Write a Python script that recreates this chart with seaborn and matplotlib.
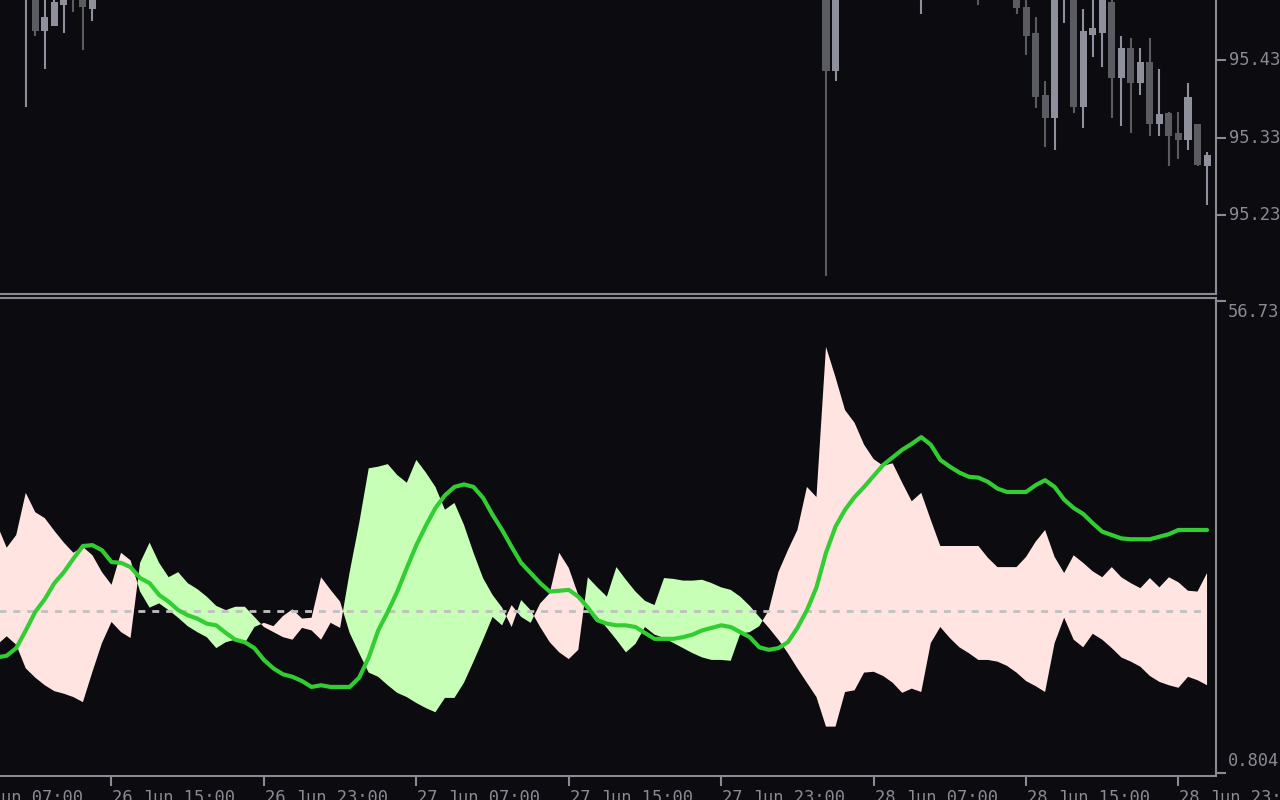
import numpy as np
import matplotlib
matplotlib.use("Agg")
import matplotlib.pyplot as plt
import seaborn as sns

# M30 bars, time in hours counted from 26 Jun 00:00
bar_hours = np.arange(9.0, 73.0, 0.5)

plus_di = [16.0, 17.0, 16.0, 13.2, 12.1, 11.2, 10.5, 10.2,
           9.8, 9.2, 12.8, 16.2, 18.7, 17.5, 16.8, 25.7,
           28.1, 25.7, 24.0, 24.6, 23.3, 22.6, 21.7, 20.6,
           20.1, 20.5, 20.5, 19.3, 18.1, 17.5, 16.9, 16.6,
           18.0, 17.7, 16.6, 18.6, 18.0, 24.6, 30.4, 36.9,
           37.1, 37.4, 36.1, 35.2, 37.9, 36.4, 34.7, 32.0,
           32.8, 30.2, 26.9, 23.9, 21.9, 20.4, 18.1, 21.3,
           20.1, 18.1, 16.3, 15.1, 14.3, 15.4, 24.0, 22.8,
           21.7, 25.2, 23.7, 22.3, 21.2, 20.7, 23.9, 23.8,
           23.6, 23.6, 23.7, 23.3, 22.8, 22.5, 21.7, 20.6,
           19.3, 18.0, 16.6, 15.0, 13.2, 11.5, 9.8, 6.3,
           6.3, 10.4, 10.6, 12.7, 12.8, 12.3, 11.5, 10.3,
           10.8, 10.4, 16.2, 18.1, 16.8, 15.7, 15.0, 14.2,
           14.2, 14.0, 13.5, 12.7, 11.7, 11.1, 10.4, 16.2,
           19.2, 16.6, 15.7, 17.3, 16.6, 15.6, 14.5, 14.0,
           13.4, 12.3, 11.6, 11.2, 10.9, 12.2, 11.8, 11.2]

minus_di = [30.2, 27.5, 29.0, 34.0, 31.7, 31.0, 29.5, 28.1,
            26.9, 27.6, 26.6, 24.6, 23.1, 26.9, 26.0, 22.3,
            20.4, 20.9, 20.1, 19.2, 18.2, 17.5, 16.9, 15.6,
            16.3, 16.6, 16.2, 18.1, 18.6, 18.2, 19.4, 20.2,
            19.1, 19.2, 24.0, 22.5, 21.1, 17.4, 15.0, 12.7,
            12.2, 11.2, 10.3, 9.8, 9.1, 8.5, 8.0, 9.7,
            9.7, 11.5, 14.0, 16.6, 19.3, 18.3, 20.7, 19.3,
            18.6, 20.9, 22.1, 26.9, 25.1, 21.9, 20.5, 19.3,
            18.0, 16.6, 15.1, 16.1, 18.1, 17.2, 16.8, 16.2,
            15.6, 15.0, 14.5, 14.2, 14.2, 14.1, 17.3, 17.5,
            18.2, 20.1, 24.6, 27.2, 29.6, 34.7, 33.5, 51.3,
            47.7, 43.8, 42.3, 39.7, 38.0, 37.2, 37.5, 35.2,
            33.0, 34.0, 30.8, 27.7, 27.7, 27.7, 27.7, 27.7,
            26.3, 25.2, 25.2, 25.2, 26.4, 28.2, 29.6, 26.4,
            24.5, 26.6, 25.7, 24.7, 24.0, 25.2, 24.0, 23.3,
            22.7, 23.9, 22.8, 24.0, 23.4, 22.4, 22.3, 24.5]

adx = [14.5, 14.7, 15.6, 17.7, 19.9, 21.4, 23.3, 24.6,
       26.2, 27.7, 27.8, 27.2, 25.8, 25.7, 25.2, 23.9,
       23.3, 21.9, 21.1, 20.1, 19.5, 19.1, 18.5, 18.3,
       17.4, 16.6, 16.3, 15.6, 14.2, 13.2, 12.5, 12.2,
       11.7, 11.0, 11.2, 11.0, 11.0, 11.0, 12.1, 14.5,
       17.7, 19.9, 22.3, 25.1, 27.8, 30.1, 32.2, 33.7,
       34.7, 35.0, 34.7, 33.4, 31.4, 29.6, 27.6, 25.7,
       24.5, 23.3, 22.3, 22.4, 22.5, 21.7, 20.4, 18.9,
       18.5, 18.3, 18.3, 18.1, 17.4, 16.7, 16.7, 16.7,
       16.9, 17.2, 17.7, 18.0, 18.3, 18.1, 17.5, 16.9,
       15.7, 15.4, 15.6, 16.3, 18.0, 20.1, 22.8, 26.9,
       30.0, 32.0, 33.5, 34.7, 36.0, 37.3, 38.2, 39.1,
       39.8, 40.6, 39.7, 37.9, 37.1, 36.4, 35.9, 35.8,
       35.3, 34.5, 34.1, 34.1, 34.1, 34.9, 35.5, 34.7,
       33.2, 32.2, 31.5, 30.4, 29.4, 29.0, 28.6, 28.5,
       28.5, 28.5, 28.8, 29.1, 29.6, 29.6, 29.6, 29.6]

adx_level = 20.0

# candles that reach into the visible price window
candle_hours = [10.5, 11.0, 11.5, 12.0, 12.5, 13.0, 13.5, 14.0,
                52.5, 53.0, 57.5, 60.5, 62.5, 63.0, 63.5, 64.0,
                64.5, 65.0, 65.5, 66.0, 66.5, 67.0, 67.5, 68.0,
                68.5, 69.0, 69.5, 70.0, 70.5, 71.0, 71.5, 72.0, 72.5]
c_open = [95.530, 95.530, 95.467, 95.474, 95.501, 95.540, 95.530, 95.496,
          95.560, 95.416, 95.515, 95.525, 95.520, 95.498, 95.465, 95.385,
          95.355, 95.515, 95.515, 95.369, 95.462, 95.465, 95.505, 95.407,
          95.446, 95.400, 95.427, 95.347, 95.362, 95.336, 95.327, 95.347, 95.293]
c_high = [95.580, 95.550, 95.520, 95.515, 95.530, 95.550, 95.540, 95.530,
          95.570, 95.560, 95.540, 95.530, 95.530, 95.510, 95.486, 95.403,
          95.520, 95.535, 95.520, 95.496, 95.510, 95.515, 95.510, 95.461,
          95.458, 95.446, 95.458, 95.418, 95.363, 95.363, 95.400, 95.347, 95.311]
c_low = [95.369, 95.461, 95.418, 95.474, 95.465, 95.492, 95.443, 95.480,
         95.151, 95.403, 95.489, 95.501, 95.489, 95.437, 95.368, 95.318,
         95.314, 95.478, 95.362, 95.342, 95.434, 95.421, 95.355, 95.345,
         95.336, 95.385, 95.332, 95.332, 95.293, 95.302, 95.314, 95.293, 95.243]
c_close = [95.560, 95.467, 95.486, 95.505, 95.520, 95.520, 95.498, 95.520,
           95.416, 95.550, 95.530, 95.520, 95.497, 95.461, 95.382, 95.355,
           95.512, 95.525, 95.369, 95.467, 95.471, 95.510, 95.407, 95.446,
           95.400, 95.427, 95.347, 95.360, 95.332, 95.327, 95.382, 95.295, 95.307]

price_ticks = [95.43, 95.33, 95.23]
adx_ticks = [56.73, 0.804]
time_ticks = [7, 15, 23, 31, 39, 47, 55, 63, 71]
time_labels = ["26 Jun 07:00", "26 Jun 15:00", "26 Jun 23:00", "27 Jun 07:00",
               "27 Jun 15:00", "27 Jun 23:00", "28 Jun 07:00", "28 Jun 15:00",
               "28 Jun 23:00"]

bg = "#0b0b10"
grey = "#8a8a94"
light = "#8e909c"
dark = "#5b5b62"
pink = "#ffe4e1"
pale_green = "#c8ffb6"
line_green = "#32cd32"

sns.set_theme(style="dark", rc={"axes.facecolor": bg, "figure.facecolor": bg,
                                "axes.edgecolor": grey, "axes.linewidth": 1.5})
plt.rcParams["font.family"] = ["DejaVu Sans Mono", "DejaVu Sans"]

fig = plt.figure(figsize=(12.8, 8), dpi=100)
ax_top = fig.add_axes([0, 0.6325, 0.95, 0.3675])
ax_bot = fig.add_axes([0, 0.03, 0.95, 0.5969])

xlim = (9.148, 72.97)
font = dict(color=grey, fontsize=12.3, family="DejaVu Sans Mono")

# ---- price panel
o = np.array(c_open)
c = np.array(c_close)
colors = [light if cc >= oo else dark for oo, cc in zip(o, c)]
ax_top.vlines(candle_hours, c_low, c_high, colors=colors, linewidth=1.5)
ax_top.bar(candle_hours, np.maximum(np.abs(c - o), 0.0008), bottom=np.minimum(o, c),
           width=0.37, color=colors, linewidth=0)
ax_top.set_xlim(*xlim)
ax_top.set_ylim(95.1281, 95.5074)
ax_top.set_xticks([])
ax_top.set_yticks(price_ticks)
ax_top.tick_params(axis="y", left=False, right=True, labelleft=False, labelright=False,
                   direction="out", length=7.2, width=1.5, color=grey)
for v in price_ticks:
    ax_top.annotate(f"{v:.2f}", xy=(1, v), xycoords=("axes fraction", "data"),
                    xytext=(13, 0), textcoords="offset pixels", ha="left",
                    va="center", annotation_clip=False, **font)
for side in ["left", "top"]:
    ax_top.spines[side].set_visible(False)

# ---- ADX panel
pd_arr = np.array(plus_di)
md_arr = np.array(minus_di)
ax_bot.fill_between(bar_hours, pd_arr, md_arr, where=md_arr >= pd_arr,
                    interpolate=True, color=pink, linewidth=0)
ax_bot.fill_between(bar_hours, pd_arr, md_arr, where=pd_arr > md_arr,
                    interpolate=True, color=pale_green, linewidth=0)
ax_bot.hlines(adx_level, bar_hours[0], bar_hours[-1], colors="#c0c0c0",
              linewidth=2, linestyles=(0, (2.5, 2.5)))
sns.lineplot(x=bar_hours, y=adx, ax=ax_bot, color=line_green, linewidth=3)
ax_bot.set_xlim(*xlim)
ax_bot.set_ylim(0.4485, 57.026)
ax_bot.set_yticks(adx_ticks)
ax_bot.tick_params(axis="y", left=False, right=True, labelleft=False, labelright=False,
                   direction="out", length=7.2, width=1.5, color=grey)
ax_bot.set_xticks([t for t in time_ticks if t > xlim[0]])
ax_bot.tick_params(axis="x", bottom=True, labelbottom=False, direction="out",
                   length=7.2, width=1.5, color=grey)
ax_bot.annotate("56.73", xy=(1, adx_ticks[0]), xycoords=("axes fraction", "data"),
                xytext=(12, -2), textcoords="offset pixels", ha="left", va="top",
                annotation_clip=False, **font)
ax_bot.annotate("0.804", xy=(1, adx_ticks[1]), xycoords=("axes fraction", "data"),
                xytext=(12, 3), textcoords="offset pixels", ha="left", va="bottom",
                annotation_clip=False, **font)
for t, lab in zip(time_ticks, time_labels):
    ax_bot.annotate(lab, xy=(t, 0), xycoords=("data", "axes fraction"),
                    xytext=(1, -13), textcoords="offset pixels", ha="left", va="top",
                    annotation_clip=False, **font)
ax_bot.spines["left"].set_visible(False)
ax_bot.set_xlabel("")
ax_bot.set_ylabel("")

fig.savefig("out.png", dpi=100, facecolor=bg)
